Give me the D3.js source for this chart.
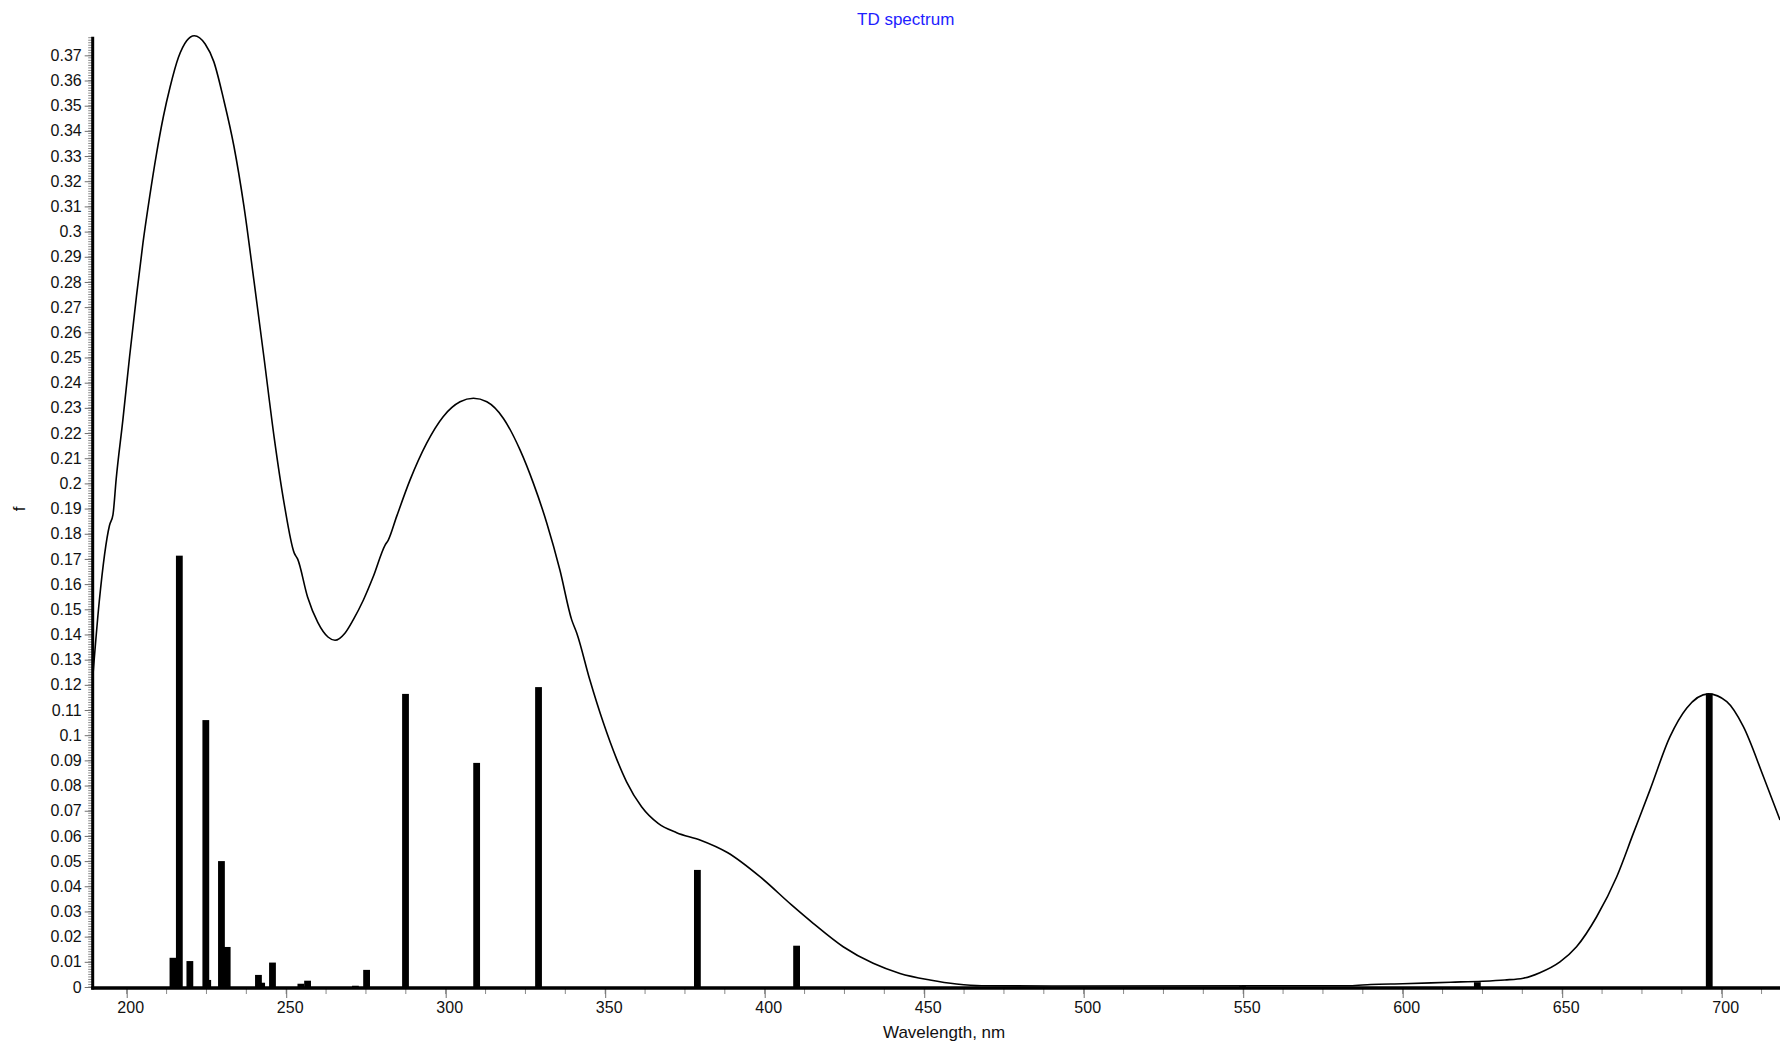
<!DOCTYPE html>
<html>
<head>
<meta charset="utf-8">
<script src="https://cdn.jsdelivr.net/npm/d3@7"></script>
<style>
  html, body { margin: 0; padding: 0; background: #fff; }
  svg { display: block; }
  text { font-family: "Liberation Sans", Arial, sans-serif; }
</style>
</head>
<body>
<svg id="chart" width="1780" height="1043"></svg>
<script>
// Excitation wavelengths (nm) and oscillator strengths
const lineWavelengths = [214.5, 216.5, 219.8, 224.8, 225.4, 229.7, 231.5, 241.3, 242.3, 245.7,
  254.6, 256.7, 271.7, 275.2, 287.4, 309.7, 329.1, 378.9, 410.0, 549.8, 623.4, 696.1];
const lineStrengths = [0.0116, 0.1713, 0.0103, 0.1060, 0.0028, 0.0500, 0.0159, 0.0048, 0.0017, 0.0097,
  0.0013, 0.0025, 0.0005, 0.0068, 0.1164, 0.0890, 0.1191, 0.0465, 0.0164, 0.0003, 0.0019, 0.1166];

// Broadened envelope: wavelength (nm) and f
const envWavelengths = [189.3, 191.4, 194.6, 195.7, 196.7, 198.8, 200.9, 203.0, 205.1, 207.2,
  209.3, 211.5, 213.6, 216.2, 218.8, 221.2, 224.6, 227.3, 230.4, 233.6,
  236.7, 239.9, 243.0, 246.2, 249.4, 252.5, 253.6, 256.7, 259.9, 263.1,
  265.3, 268.4, 271.0, 274.2, 277.3, 281.0, 282.0, 284.6, 288.8, 294.0,
  299.2, 304.5, 308.7, 312.9, 318.1, 323.3, 327.5, 331.7, 335.8, 339.5,
  341.1, 345.2, 349.4, 353.6, 356.7, 361.4, 366.6, 372.4, 379.7,
  388.3, 398.8, 408.5, 415.2, 424.6, 434.0, 442.4, 451.8, 460.1, 468.0,
  492.6, 583.5, 590.0, 600.0, 615.0, 625.0, 632.0, 637.8, 643.0, 649.3,
  654.5, 660.8, 667.1, 672.3, 677.5, 683.8, 689.0, 695.8, 701.6, 706.8,
  713.1, 718.3];
const envStrengths = [0.1220, 0.1532, 0.1833, 0.1876, 0.2017, 0.2252, 0.2503, 0.2737, 0.2955, 0.3139,
  0.3306, 0.3457, 0.3574, 0.3691, 0.3758, 0.3778, 0.3745, 0.3675, 0.3524, 0.3340,
  0.3105, 0.2804, 0.2503, 0.2185, 0.1917, 0.1724, 0.1699, 0.1549, 0.1448, 0.1390,
  0.1377, 0.1405, 0.1458, 0.1537, 0.1630, 0.1755, 0.1775, 0.1868, 0.2013, 0.2159,
  0.2265, 0.2324, 0.2338, 0.2324, 0.2258, 0.2133, 0.2000, 0.1842, 0.1656, 0.1458,
  0.1405, 0.1219, 0.1050, 0.0905, 0.0815, 0.0716, 0.0650, 0.0613, 0.0584,
  0.0534, 0.0435, 0.0325, 0.0253, 0.0160, 0.0094, 0.0054, 0.0028, 0.0012, 0.0005,
  0.0004, 0.0005, 0.0010, 0.0013, 0.0019, 0.0023, 0.0028, 0.0035, 0.0057, 0.0100,
  0.0160, 0.0279, 0.0438, 0.0610, 0.0782, 0.0994, 0.1107, 0.1164, 0.1133, 0.1034,
  0.0835, 0.0663];

// Axis ticks
const xTickLabels = [200, 250, 300, 350, 400, 450, 500, 550, 600, 650, 700];
const yTickLabels = ["0", "0.01", "0.02", "0.03", "0.04", "0.05", "0.06", "0.07", "0.08", "0.09",
  "0.1", "0.11", "0.12", "0.13", "0.14", "0.15", "0.16", "0.17", "0.18", "0.19",
  "0.2", "0.21", "0.22", "0.23", "0.24", "0.25", "0.26", "0.27", "0.28", "0.29",
  "0.3", "0.31", "0.32", "0.33", "0.34", "0.35", "0.36", "0.37"];

const title = "TD spectrum";
const xTitle = "Wavelength, nm";
const yTitle = "f";

const svg = d3.select("#chart");
const plotLeft = 92.7, plotRight = 1780, plotTop = 36.7, plotBottom = 987;

const x = d3.scaleLinear().domain([189.34, 718.28]).range([plotLeft, plotRight]);
const y = d3.scaleLinear().domain([0, 0.3774]).range([plotBottom, plotTop]);

// Title
svg.append("text")
  .attr("x", 857).attr("y", 25)
  .attr("font-size", 17).attr("fill", "#1e1eff")
  .text(title);

// Y axis: minor ticks every 0.001, major every 0.01
const yMinor = d3.range(0, 378).map(i => i / 1000);
svg.append("g").selectAll("line").data(yMinor).join("line")
  .attr("x1", plotLeft - 4.5).attr("x2", plotLeft)
  .attr("y1", d => y(d)).attr("y2", d => y(d))
  .attr("stroke", "#8a8a8a").attr("stroke-width", 1);

const yAxis = d3.axisLeft(y)
  .tickValues(yTickLabels.map(Number))
  .tickFormat((d, i) => yTickLabels[i])
  .tickSize(8).tickPadding(3);
const gy = svg.append("g").attr("transform", `translate(${plotLeft},0)`).call(yAxis);
gy.select(".domain").remove();
gy.selectAll(".tick line").attr("stroke", "#707070");
gy.selectAll(".tick text")
  .attr("font-family", "Liberation Sans, Arial, sans-serif")
  .attr("font-size", 16).attr("fill", "#111");

// X axis: minor ticks every 12.5 nm, major every 50
const xMinor = d3.range(0, 43).map(i => 187.5 + i * 12.5).filter(v => v >= 189.34 && v <= 718.28);
svg.append("g").selectAll("line").data(xMinor).join("line")
  .attr("x1", d => x(d)).attr("x2", d => x(d))
  .attr("y1", plotBottom + 2).attr("y2", plotBottom + 7)
  .attr("stroke", "#8a8a8a").attr("stroke-width", 1);

const xAxis = d3.axisBottom(x)
  .tickValues(xTickLabels)
  .tickFormat(d3.format("d"))
  .tickSize(11).tickPadding(4);
const gx = svg.append("g").attr("transform", `translate(0,${plotBottom})`).call(xAxis);
gx.select(".domain").remove();
gx.selectAll(".tick line").attr("stroke", "#707070");
gx.selectAll(".tick text")
  .attr("font-family", "Liberation Sans, Arial, sans-serif")
  .attr("font-size", 16).attr("fill", "#111")
  .attr("dx", 3.5);

// Envelope curve
const envelope = envWavelengths.map((w, i) => [w, envStrengths[i]]);
svg.append("path")
  .datum(envelope)
  .attr("fill", "none")
  .attr("stroke", "#000")
  .attr("stroke-width", 1.6)
  .attr("d", d3.line().x(d => x(d[0])).y(d => y(d[1])).curve(d3.curveMonotoneX));

// Stick spectrum
const sticks = lineWavelengths.map((w, i) => ({ w, f: lineStrengths[i] }));
svg.append("g").selectAll("rect").data(sticks).join("rect")
  .attr("x", d => x(d.w) - 3.4)
  .attr("width", 6.8)
  .attr("y", d => y(d.f))
  .attr("height", d => plotBottom - y(d.f))
  .attr("fill", "#000");

// Axis lines
svg.append("line")
  .attr("x1", plotLeft).attr("x2", plotLeft).attr("y1", plotTop).attr("y2", plotBottom + 2.5)
  .attr("stroke", "#000").attr("stroke-width", 3);
svg.append("line")
  .attr("x1", plotLeft - 1.5).attr("x2", plotRight).attr("y1", plotBottom + 1).attr("y2", plotBottom + 1)
  .attr("stroke", "#000").attr("stroke-width", 3.5);

// Axis titles
svg.append("text")
  .attr("x", 883).attr("y", 1038)
  .attr("font-size", 17).attr("fill", "#111")
  .text(xTitle);
svg.append("text")
  .attr("transform", "translate(25,509) rotate(-90)")
  .attr("text-anchor", "middle")
  .attr("font-size", 17).attr("fill", "#111")
  .text(yTitle);
</script>
</body>
</html>
